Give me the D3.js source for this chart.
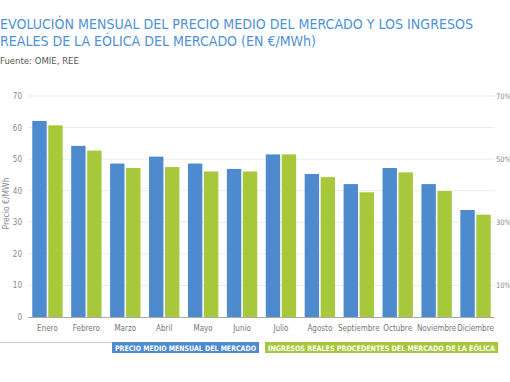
<!DOCTYPE html>
<html><head><meta charset="utf-8">
<script src="https://cdn.jsdelivr.net/npm/d3@7"></script>
<style>
body{margin:0;background:#fff;}
svg{display:block;}
text{font-family:"DejaVu Sans",sans-serif;font-stretch:condensed;}
</style></head>
<body><svg id="c" width="510" height="382"></svg>
<script>
const months = ["Enero","Febrero","Marzo","Abril","Mayo","Junio","Julio","Agosto","Septiembre","Octubre","Noviembre","Diciembre"];
const precioMedio = [62.1,54.2,48.6,50.8,48.6,46.9,51.5,45.3,42.1,47.2,42.1,33.9];
const ingresosEolica = [60.7,52.7,47.2,47.5,46.1,46.1,51.5,44.3,39.5,45.8,39.9,32.4];
const leftTicks = [0,10,20,30,40,50,60,70];
const rightTicks = ["10%","30%","50%","70%"];
const rightTickPos = [10,30,50,70];
const seriesNames = ["PRECIO MEDIO MENSUAL DEL MERCADO","INGRESOS REALES PROCEDENTES DEL MERCADO DE LA EÓLICA"];
const colors = ["#4d8ace","#a7c83b"];

const svg = d3.select("#c");
const x0 = 28, x1 = 495, yTop = 96, yBot = 317;
const y = d3.scaleLinear().domain([0,70]).range([yBot,yTop]);
const x = d3.scaleBand().domain(months).range([x0,x1]).paddingInner(0.22).paddingOuter(0.11);
const xs = d3.scaleBand().domain([0,1]).range([0,x.bandwidth()]).paddingInner(0.1);

// title
const t = svg.append("g").attr("fill","#4f92d6").attr("font-size","13.5px");
t.append("text").attr("x",0).attr("y",29).text("EVOLUCIÓN MENSUAL DEL PRECIO MEDIO DEL MERCADO Y LOS INGRESOS").attr("textLength",473).attr("lengthAdjust","spacingAndGlyphs");
t.append("text").attr("x",0).attr("y",45.5).text("REALES DE LA EÓLICA DEL MERCADO (EN €/MWh)").attr("textLength",316).attr("lengthAdjust","spacingAndGlyphs");
svg.append("text").attr("x",0).attr("y",64).attr("fill","#555").attr("font-size","9.5px").text("Fuente: OMIE, REE");

// grid
svg.append("g").selectAll("line").data(leftTicks.filter(d=>d>0)).join("line")
  .attr("x1",x0).attr("x2",x1).attr("y1",d=>y(d)).attr("y2",d=>y(d))
  .attr("stroke","#ebebeb").attr("stroke-width",1);

// left axis labels
svg.append("g").selectAll("text").data(leftTicks).join("text")
  .attr("x",22).attr("y",d=>y(d)+3).attr("text-anchor","end").attr("fill","#888").attr("font-size","8px").text(d=>d);
// right axis labels
svg.append("g").selectAll("text").data(rightTicks).join("text")
  .attr("x",496).attr("y",(d,i)=>y(rightTickPos[i])+3).attr("fill","#888").attr("font-size","7.5px").text(d=>d);

// y title
svg.append("text").attr("transform",`translate(9,${(yTop+yBot)/2-3}) rotate(-90)`).attr("text-anchor","middle")
  .attr("fill","#888").attr("font-size","8.5px").text("Precio €/MWh");

// bars
const data = months.map((m,i)=>({m, v:[precioMedio[i], ingresosEolica[i]]}));
const g = svg.append("g").selectAll("g").data(data).join("g").attr("transform",d=>`translate(${x(d.m)},0)`);
g.selectAll("rect").data(d=>d.v.map((v,k)=>({v,k}))).join("rect")
  .attr("x",d=>xs(d.k)).attr("width",xs.bandwidth())
  .attr("y",d=>y(d.v)).attr("height",d=>yBot-y(d.v)).attr("fill",d=>colors[d.k]);

// baseline
svg.append("line").attr("x1",x0).attr("x2",x1).attr("y1",yBot+0.5).attr("y2",yBot+0.5).attr("stroke","#aaa");

// x labels
svg.append("g").selectAll("text").data(months).join("text")
  .attr("x",d=>x(d)+x.bandwidth()/2).attr("y",331).attr("text-anchor","middle").attr("fill","#777").attr("font-size","8px").text(d=>d);

// separator line
svg.append("line").attr("x1",0).attr("x2",112).attr("y1",342.5).attr("y2",342.5).attr("stroke","#ccc");

// legend
const leg = [{x:112,w:147},{x:265,w:233}];
leg.forEach((l,i)=>{
  svg.append("rect").attr("x",l.x).attr("y",342).attr("width",l.w).attr("height",11).attr("fill",colors[i]);
  svg.append("text").attr("x",l.x+3).attr("y",350.5).attr("fill","#fff").attr("font-weight","bold").attr("font-size","7.5px")
    .attr("textLength",l.w-6).attr("lengthAdjust","spacingAndGlyphs").text(seriesNames[i]);
});
</script></body></html>
